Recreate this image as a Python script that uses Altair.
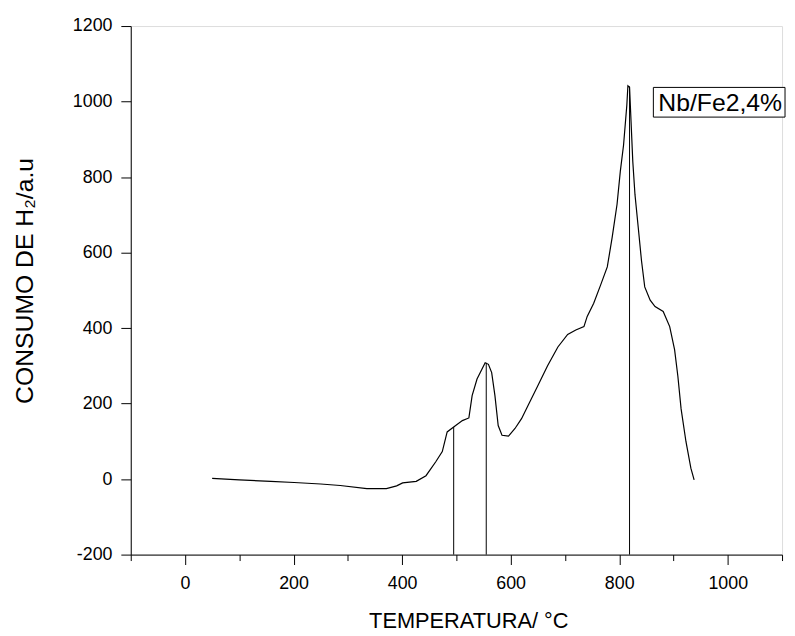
import altair as alt
import pandas as pd

# ---- data ----
temp = [50, 100, 158, 201, 250, 286, 335, 371, 390, 401, 426, 444, 462, 474, 483, 495,
        511, 523, 529, 538, 547, 553, 559, 565, 571, 577, 584, 596, 608, 620, 632, 650,
        668, 687, 705, 720, 735, 741, 753, 766, 778, 787, 796, 802, 808, 814, 816, 819,
        821, 825, 829, 835, 841, 847, 857, 866, 881, 893, 902, 908, 914, 923, 932, 938]
h2 = [2, -2, -6, -9, -13, -17, -25, -25, -18, -10, -6, 9, 46, 73, 125, 138,
      155, 162, 221, 265, 291, 308, 304, 282, 221, 142, 116, 114, 134, 160, 195, 247,
      300, 350, 383, 395, 404, 431, 466, 515, 562, 640, 728, 815, 885, 990, 1042, 1038,
      973, 841, 754, 667, 579, 509, 474, 457, 444, 404, 343, 273, 186, 99, 29, -2]

drop_temp = [495, 555, 819]
drop_h2 = [138, 308, 1040]
drop_base = [-200, -200, -200]

x_ticks = list(range(-100, 1101, 100))
y_ticks = list(range(-200, 1201, 100))
legend_label = ["Nb/Fe2,4%"]

curve = pd.DataFrame({"T": temp, "H": h2})
drops = pd.DataFrame({"T": drop_temp, "H": drop_h2, "base": drop_base})
leg = pd.DataFrame({"label": legend_label})

FONT = "Liberation Sans"
xscale = alt.Scale(domain=[-100, 1100], nice=False, zero=False)
yscale = alt.Scale(domain=[-200, 1200], nice=False, zero=False)

major = "datum.value % 200 == 0"
label_expr = f"{major} ? toString(datum.value) : ''"
xaxis = alt.Axis(
    values=x_ticks, grid=False,
    labelExpr=label_expr,
    tickSize={"condition": {"test": major, "value": 10}, "value": 6},
    labelPadding=10, labelFontSize=18, labelFont=FONT, labelColor="black",
    title="TEMPERATURA/ °C", titleFontSize=22, titleFont=FONT, titleFontWeight="normal",
    titleColor="black", titlePadding=19, titleX=341,
    domainColor="black", tickColor="black", labelFlush=False,
)
yaxis = alt.Axis(
    values=y_ticks, grid=False,
    labelExpr=label_expr,
    tickSize={"condition": {"test": major, "value": 10}, "value": 6},
    labelPadding=9, labelFontSize=18, labelFont=FONT, labelColor="black",
    title="CONSUMO DE H₂/a.u", titleFontSize=25, titleFont=FONT, titleFontWeight="normal",
    titleColor="black", titlePadding=35, titleY=257,
    domainColor="black", tickColor="black", labelFlush=False,
)

line = alt.Chart(curve).mark_line(color="black", strokeWidth=1.2).encode(
    x=alt.X("T:Q", scale=xscale, axis=xaxis),
    y=alt.Y("H:Q", scale=yscale, axis=yaxis),
)

rules = alt.Chart(drops).mark_rule(color="black", strokeWidth=1).encode(
    x="T:Q", y="H:Q", y2="base:Q"
)

box = alt.Chart(leg).mark_rect(fill="white", stroke="black", strokeWidth=1).encode(
    x=alt.value(528), x2=alt.value(661), y=alt.value(62), y2=alt.value(92)
)
txt = alt.Chart(leg).mark_text(
    align="left", baseline="alphabetic", font=FONT, fontSize=25, color="black"
).encode(x=alt.value(533), y=alt.value(86), text="label:N")

chart = alt.layer(line, rules, box, txt).properties(
    width=658, height=534,
    autosize="none",
    padding={"left": 124, "top": 15, "right": 5, "bottom": 79},
).configure_view(stroke=None).configure(background="white")

chart.save("out.html", embed_options={"renderer": "svg", "actions": False})
